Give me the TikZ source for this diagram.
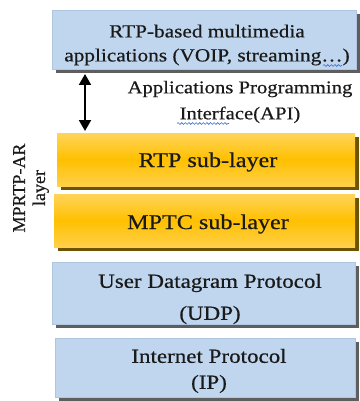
\documentclass[tikz,border=0pt]{standalone}
\usepackage{fontspec}
\setmainfont{Liberation Serif}[FakeStretch=1.15, FakeBold=0.5]
\newfontfamily\uprightserif{Liberation Serif}[FakeBold=0.5]
\usetikzlibrary{shadows,decorations.pathmorphing,arrows.meta}

\definecolor{layerblue}{HTML}{BFD6EE}
\definecolor{layeredge}{HTML}{AFC6E0}
\definecolor{blueshadow}{HTML}{5E5E5E}
\definecolor{goldtop}{HTML}{FFD45A}
\definecolor{goldmid}{HTML}{FFC000}
\definecolor{goldbot}{HTML}{FFD04A}
\definecolor{goldshadow}{HTML}{6E5400}
\definecolor{inkdark}{HTML}{1A1A1A}
\definecolor{squiggle}{HTML}{3A6FD0}

\tikzset{
  layerbox/.style={rectangle, inner sep=0pt, fill=layerblue, draw=layeredge, line width=0.4pt,
    drop shadow={shadow xshift=4pt, shadow yshift=-4pt, fill=blueshadow, opacity=1}},
  subbox/.style={rectangle, inner sep=0pt, draw=none,
    top color=goldtop, bottom color=goldbot, middle color=goldmid,
    drop shadow={shadow xshift=4pt, shadow yshift=-4pt, fill=goldshadow, opacity=1}},
  caption/.style={inner sep=0pt, align=center, text=inkdark},
  spellmark/.style={draw=squiggle, line width=0.6pt,
    decorate, decoration={snake, amplitude=0.9pt, segment length=3.6pt}},
  apiarrow/.style={<->, line width=2pt, >={Triangle[width=12pt,length=11pt]}}
}

\begin{document}
\begin{tikzpicture}[x=1pt,y=-1pt]
  \useasboundingbox (0,0) rectangle (359,401);

  % protocol stack boxes
  \node[layerbox, minimum width=304pt, minimum height=59pt] (app)  at (204,39.5) {};
  \node[subbox,   minimum width=298pt, minimum height=53pt] (rtp)  at (206,159.5) {};
  \node[subbox,   minimum width=301pt, minimum height=53pt] (mptc) at (204.5,220.5) {};
  \node[layerbox, minimum width=303pt, minimum height=62pt] (udp)  at (203.5,293) {};
  \node[layerbox, minimum width=300pt, minimum height=59pt] (ip)   at (205,367.5) {};

  % box captions
  \node[caption, font=\fontsize{18.5}{24}\selectfont] (appt) at (207,45)
    {RTP-based multimedia\\applications (VOIP, streaming…)};
  \node[caption, font=\fontsize{21}{25}\selectfont] (rtpt) at (208,162) {RTP sub-layer};
  \node[caption, font=\fontsize{21}{25}\selectfont] (mptct) at (208,224) {MPTC sub-layer};
  \node[caption, font=\fontsize{20}{32}\selectfont] (udpt) at (210,299)
    {User Datagram Protocol\\(UDP)};
  \node[caption, font=\fontsize{20}{26}\selectfont] (ipt) at (209,371)
    {Internet Protocol\\(IP)};

  % API label and arrow between the application layer and RTP
  \node[caption, font=\fontsize{18}{26}\selectfont] (api) at (240,102)
    {Applications Programming\\Interface(API)};
  \coordinate (arrtop) at (85,74);
  \coordinate (arrbot) at (85,131);
  \draw[apiarrow] (arrtop) -- (arrbot);

  % side label for the two sub-layers
  \node[caption, rotate=90, font=\uprightserif\fontsize{18}{20}\selectfont] (mprtp) at (31,188)
    {MPRTP-AR\\layer};

  % spell-check marks
  \coordinate (sq1a) at (323,65.5);
  \coordinate (sq1b) at (342,65.5);
  \draw[spellmark] (sq1a) -- (sq1b);
  \coordinate (sq2a) at (177,123.5);
  \coordinate (sq2b) at (229,123.5);
  \draw[spellmark] (sq2a) -- (sq2b);
\end{tikzpicture}
\end{document}
